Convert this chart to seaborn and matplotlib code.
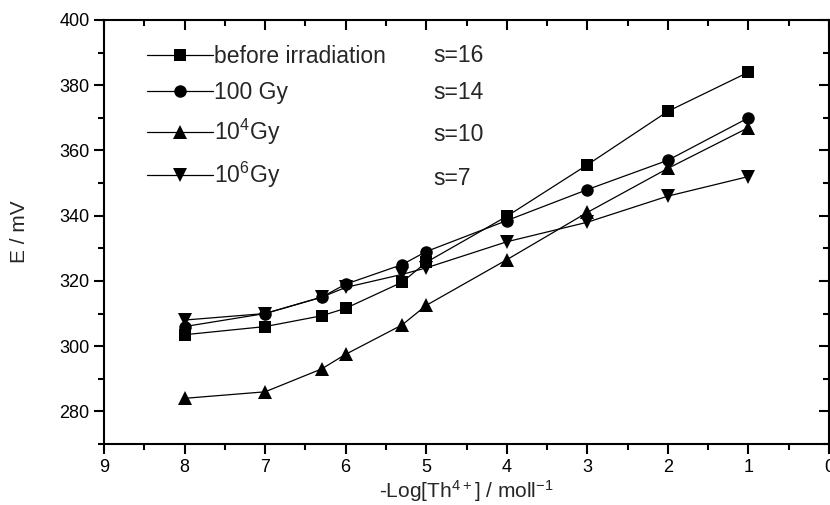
import matplotlib
matplotlib.use('Agg')
import matplotlib.pyplot as plt
import seaborn as sns
from matplotlib.ticker import MultipleLocator

# =============================================================================
# DADOS
# =============================================================================
log_th = [8, 7, 6.3, 6, 5.3, 5, 4, 3, 2, 1]
e_before = [303.5, 306, 309.3, 311.6, 319.6, 325.7, 339.8, 355.6, 372, 384]
e_100gy = [306, 310, 315, 319, 325, 329, 338.5, 348, 357, 370]
e_1e4gy = [284, 286, 293, 297.5, 306.5, 312.5, 326.5, 341, 354.5, 367]
e_1e6gy = [308, 310, 315, 318, 322, 324, 332, 338, 346, 352]

series_labels = ['before irradiation', '100 Gy', '10$^{4}$Gy', '10$^{6}$Gy']
slopes = ['s=16', 's=14', 's=10', 's=7']
x_ticks = [9, 8, 7, 6, 5, 4, 3, 2, 1, 0]
y_ticks = [280, 300, 320, 340, 360, 380, 400]

# =============================================================================
# ESTILO
# =============================================================================
sns.set_style('ticks')
plt.rcParams['font.family'] = ['Liberation Sans', 'DejaVu Sans']
plt.rcParams['mathtext.default'] = 'regular'

fig = plt.figure(figsize=(8.3, 5.05), dpi=100)
ax = fig.add_axes([0.1253, 0.1208, 0.8735, 0.8396])

marcadores = ['s', 'o', '^', 'v']
tamanhos = [8.5, 9, 10.5, 10.5]
valores = [e_before, e_100gy, e_1e4gy, e_1e6gy]

for y_vals, lab, mk, ms in zip(valores, series_labels, marcadores, tamanhos):
    sns.lineplot(x=log_th, y=y_vals, ax=ax, color='black', linewidth=0.9,
                 marker=mk, markersize=ms, markeredgecolor='black',
                 markeredgewidth=0, label=lab)

ax.set_xlim(9, 0)
ax.set_ylim(270, 400)
ax.set_xticks(x_ticks)
ax.set_yticks(y_ticks)
ax.xaxis.set_minor_locator(MultipleLocator(0.5))
ax.yaxis.set_minor_locator(MultipleLocator(10))

ax.tick_params(which='both', top=True, right=True, width=1.5, labelsize=13, colors='black')
ax.tick_params(which='major', length=7)
ax.tick_params(which='minor', length=4.5)
# baixo/esquerda para fora, topo/direita para dentro
for t in ax.xaxis.get_major_ticks() + ax.xaxis.get_minor_ticks():
    t.tick1line.set_marker(3)
    t.tick2line.set_marker(3)
for t in ax.yaxis.get_major_ticks() + ax.yaxis.get_minor_ticks():
    t.tick1line.set_marker(0)
    t.tick2line.set_marker(0)

for sp in ax.spines.values():
    sp.set_linewidth(1.5)
    sp.set_color('black')

ax.set_xlabel('-Log[Th$^{4+}$] / moll$^{-1}$', fontsize=15, labelpad=2)
ax.set_ylabel('E / mV', fontsize=15, labelpad=22)

leg = ax.legend(loc='upper left', bbox_to_anchor=(0.059, 0.94), frameon=False,
                fontsize=16.5, handlelength=2.9, handletextpad=0.05,
                labelspacing=0.55, borderpad=0, borderaxespad=0)

y_pos = [0.917, 0.828, 0.729, 0.627]
for txt, yp in zip(slopes, y_pos):
    ax.text(0.454, yp, txt, transform=ax.transAxes, fontsize=16.5, va='center', ha='left')

fig.savefig('out.png', dpi=100)
